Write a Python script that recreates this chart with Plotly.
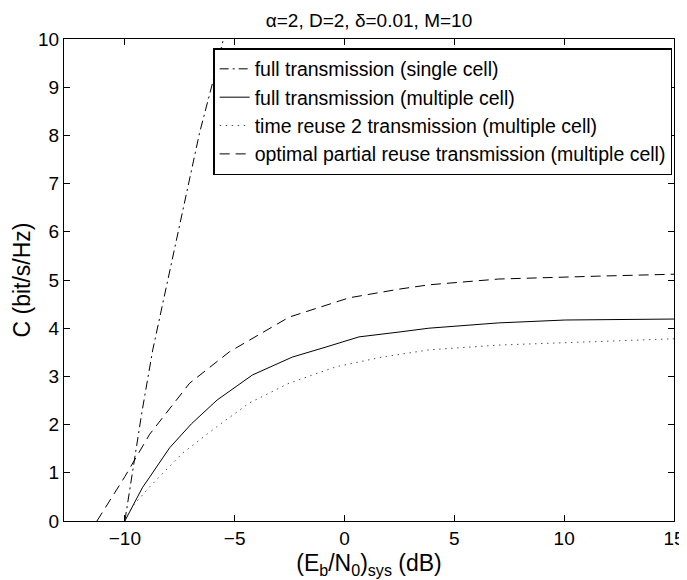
import plotly.graph_objects as go

# x values (dB) and capacity (bit/s/Hz)
single_x = [-10.0, -9.6, -9.23, -8.73, -8.0, -7.3, -6.6, -6.0, -5.51]
single_y = [0.0, 1.15, 2.24, 3.55, 5.1, 6.6, 8.05, 9.1, 10.0]

full_x = [-10.0, -9.19, -8.87, -7.96, -6.96, -5.8, -4.19, -2.38, -0.84, 0.66, 2.48, 3.84, 7.01, 10.05, 15.0]
full_y = [0.0, 0.70, 0.91, 1.52, 2.02, 2.51, 3.03, 3.40, 3.61, 3.82, 3.92, 4.0, 4.11, 4.17, 4.19]

reuse2_x = [-10.0, -9.68, -8.87, -7.37, -5.83, -4.33, -2.52, -0.38, 1.70, 3.84, 7.01, 11.55, 15.0]
reuse2_y = [0.0, 0.29, 0.71, 1.41, 1.95, 2.45, 2.86, 3.20, 3.40, 3.55, 3.65, 3.73, 3.78]

opt_x = [-11.27, -10.0, -8.87, -7.05, -5.24, -2.52, 0.21, 2.48, 3.84, 7.01, 11.55, 15.0]
opt_y = [0.0, 0.92, 1.80, 2.86, 3.51, 4.23, 4.63, 4.81, 4.90, 5.02, 5.08, 5.12]

names = [
    "full transmission (single cell)",
    "full transmission (multiple cell)",
    "time reuse 2 transmission (multiple cell)",
    "optimal partial reuse transmission (multiple cell)",
]

fig = go.Figure()
fig.add_trace(go.Scatter(x=single_x, y=single_y, mode="lines", name=names[0],
                         line=dict(color="black", width=1, dash="9px,4px,2px,4px")))
fig.add_trace(go.Scatter(x=full_x, y=full_y, mode="lines", name=names[1],
                         line=dict(color="black", width=1, dash="solid")))
fig.add_trace(go.Scatter(x=reuse2_x, y=reuse2_y, mode="lines", name=names[2],
                         line=dict(color="#555555", width=1, dash="1.5px,4.5px")))
fig.add_trace(go.Scatter(x=opt_x, y=opt_y, mode="lines", name=names[3],
                         line=dict(color="black", width=1, dash="10px,6px")))

font = "Liberation Sans, Arial, Helvetica, sans-serif"
# the page body has an 8px margin, so the figure is sized/offset to compensate
fig.update_layout(
    width=681, height=572,
    margin=dict(l=56, r=15, t=31, b=59, autoexpand=False),
    paper_bgcolor="white", plot_bgcolor="white",
    font=dict(family=font, size=19, color="black"),
    title=dict(text="α=2, D=2, δ=0.01, M=10", x=0.5, xref="paper",
               y=1 - 12 / 572, yanchor="middle", font=dict(size=19)),
    showlegend=True,
    legend=dict(x=0.997, y=0.981, xanchor="right", yanchor="top",
                bordercolor="black", borderwidth=1.5, bgcolor="white",
                font=dict(size=19.5), tracegroupgap=0),
    xaxis=dict(range=[-12.77, 15], tickvals=[-10, -5, 0, 5, 10, 15],
               showgrid=False, zeroline=False, showline=True, linecolor="black",
               linewidth=1, mirror="ticks", ticks="inside", ticklen=6,
               tickcolor="black", automargin=False,
               title=dict(text="(E<sub>b</sub>/N<sub>0</sub>)<sub>sys</sub> (dB)",
                          standoff=7)),
    yaxis=dict(range=[0, 10], tickvals=list(range(0, 11)),
               showgrid=False, zeroline=False, showline=True, linecolor="black",
               linewidth=1, mirror="ticks", ticks="inside", ticklen=6,
               tickcolor="black", automargin=False,
               title=dict(text="C (bit/s/Hz)", standoff=1)),
)

fig.write_html("out.html")
